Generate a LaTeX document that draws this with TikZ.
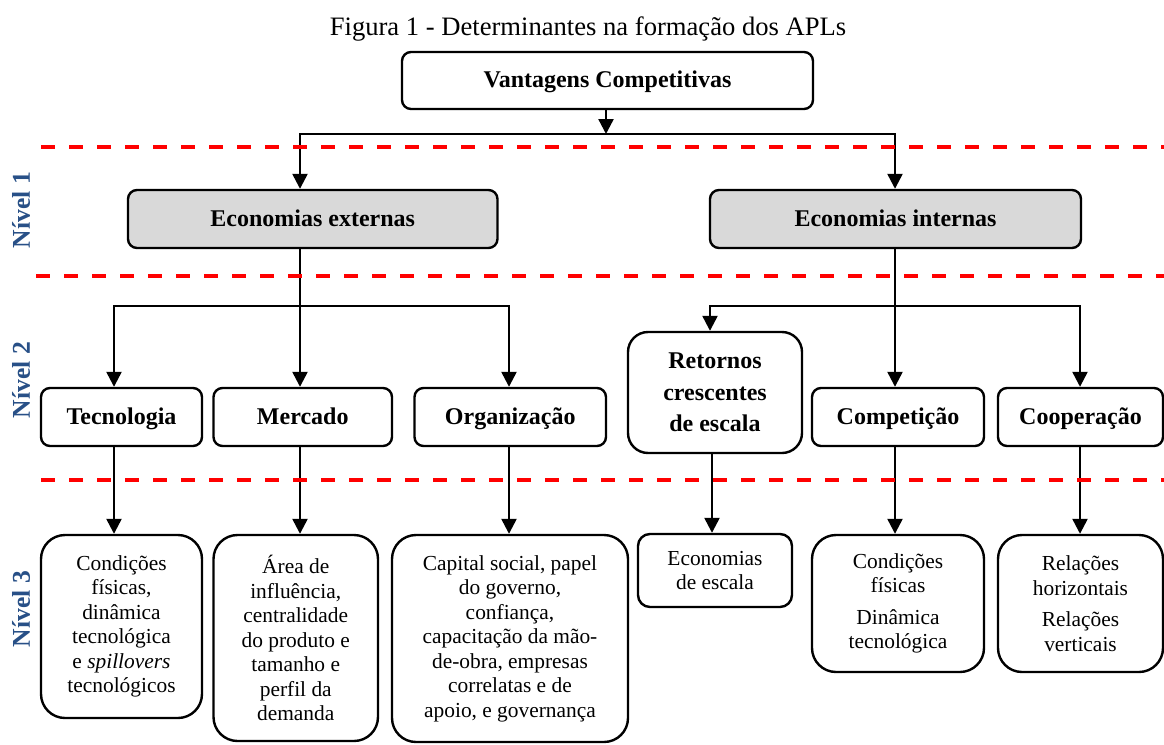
\documentclass[tikz,border=0pt]{standalone}
\usepackage{fontspec}
\setmainfont{Liberation Serif}
\usetikzlibrary{arrows.meta}
\definecolor{nivelblue}{RGB}{40,80,135}
\definecolor{boxgray}{RGB}{217,217,217}
\begin{document}
\begin{tikzpicture}[x=1pt,y=-1pt,
  box/.style={draw=black, line width=2.4pt, rounded corners=9pt, align=center, inner sep=0pt, anchor=center},
  oneline/.style={text height=17pt, text depth=3pt},
  lvlone/.style={box, oneline, fill=boxgray, font=\bfseries\fontsize{24}{29}\selectfont, minimum height=58pt},
  lvltwo/.style={box, font=\bfseries\fontsize{24}{31.5}\selectfont, minimum height=58pt},
  lvlthree/.style={box, rounded corners=24pt, font=\fontsize{21.4}{24.5}\selectfont},
  nivel/.style={rotate=90, text=nivelblue, inner sep=0pt, font=\bfseries\fontsize{25.6}{30}\selectfont},
  arr/.style={line width=2.4pt, line join=miter, -{Triangle[width=15pt,length=15pt]}},
  reddash/.style={draw=red, line width=3.5pt, dash pattern=on 14pt off 14pt}]
\useasboundingbox (0,0) rectangle (1164,744);

% title
\node[font=\fontsize{26.6}{30}\selectfont, anchor=base, inner sep=0pt] (title) at (588,35) {Figura 1 - Determinantes na formação dos APLs};

% level labels
\node[nivel] (n1) at (21,210) {Nível 1};
\node[nivel] (n2) at (21,380) {Nível 2};
\node[nivel] (n3) at (21,609) {Nível 3};

% top
\node[box, oneline, font=\bfseries\fontsize{24}{29}\selectfont, minimum width=411pt, minimum height=57pt] (vc) at (607.5,80.5) {Vantagens Competitivas};

% level 1
\node[lvlone, minimum width=369.5pt] (ee) at (312.75,219) {Economias externas};
\node[lvlone, minimum width=371pt] (ei) at (895.5,219) {Economias internas};

% level 2
\node[lvltwo, oneline, minimum width=161pt] (tec) at (121.5,417) {Tecnologia};
\node[lvltwo, oneline, minimum width=178.5pt] (mer) at (302.75,417) {Mercado};
\node[lvltwo, oneline, minimum width=191.5pt] (org) at (510.25,417) {Organização};
\node[lvltwo, rounded corners=20pt, minimum width=174pt, minimum height=121pt] (ret) at (715,392.5) {Retornos\\crescentes\\de escala};
\node[lvltwo, oneline, minimum width=172pt] (comp) at (898,417) {Competição};
\node[lvltwo, oneline, minimum width=165pt] (coop) at (1080.5,417) {Cooperação};

% level 3
\node[lvlthree, minimum width=161pt, minimum height=183pt] (tecbox) at (121.5,626.5) {Condições\\físicas,\\dinâmica\\tecnológica\\e \textit{spillovers}\\tecnológicos};
\node[lvlthree, minimum width=164.5pt, minimum height=206pt] (merbox) at (295.75,638) {Área de\\influência,\\centralidade\\do produto e\\tamanho e\\perfil da\\demanda};
\node[lvlthree, minimum width=236pt, minimum height=207pt] (orgbox) at (510,638.5) {Capital social, papel\\do governo,\\confiança,\\capacitação da mão-\\de-obra, empresas\\correlatas e de\\apoio, e governança};
\node[lvlthree, rounded corners=12pt, minimum width=154pt, minimum height=73pt] (retbox) at (715,570.5) {Economias\\de escala};
\node[lvlthree, minimum width=172pt, minimum height=137pt] (compbox) at (898,603.5) {Condições\\físicas\\[7pt]Dinâmica\\tecnológica};
\node[lvlthree, minimum width=165pt, minimum height=137pt] (coopbox) at (1080.5,603.5) {Relações\\horizontais\\[7pt]Relações\\verticais};

% junction coordinates
\coordinate (j0) at (606,134);
\coordinate (jL) at (300,134);
\coordinate (jR) at (895,134);
\coordinate (k1) at (114,306);
\coordinate (k2) at (300,306);
\coordinate (k3) at (509,306);
\coordinate (q1) at (710,306);
\coordinate (q2) at (895,306);
\coordinate (q3) at (1080,306);
\coordinate (rx) at (712,0);

% connectors top
\draw[arr] (vc.south -| j0) -- (j0);
\draw[arr] (j0) -- (jL) -- (jL |- ee.north);
\draw[arr] (j0) -- (jR) -- (jR |- ei.north);

% connectors level 2 left
\draw[arr] (ee.south -| k2) -- (mer.north -| k2);
\draw[arr] (k2) -- (k1) -- (k1 |- tec.north);
\draw[arr] (k2) -- (k3) -- (k3 |- org.north);

% connectors level 2 right
\draw[arr] (ei.south -| q2) -- (comp.north -| q2);
\draw[arr] (q2) -- (q1) -- (q1 |- ret.north);
\draw[arr] (q2) -- (q3) -- (q3 |- coop.north);

% connectors level 3
\draw[arr] (tec.south -| k1) -- (tecbox.north -| k1);
\draw[arr] (mer.south -| k2) -- (merbox.north -| k2);
\draw[arr] (org.south -| k3) -- (orgbox.north -| k3);
\draw[arr] (ret.south -| rx) -- (retbox.north -| rx);
\draw[arr] (comp.south -| q2) -- (compbox.north -| q2);
\draw[arr] (coop.south -| q3) -- (coopbox.north -| q3);

% red dashed separators
\coordinate (d1a) at (41,147); \coordinate (d1b) at (1164,147);
\coordinate (d2a) at (36,276); \coordinate (d2b) at (1164,276);
\coordinate (d3a) at (41,480); \coordinate (d3b) at (1164,480);
\draw[reddash] (d1a) -- (d1b);
\draw[reddash] (d2a) -- (d2b);
\draw[reddash] (d3a) -- (d3b);
\end{tikzpicture}
\end{document}
